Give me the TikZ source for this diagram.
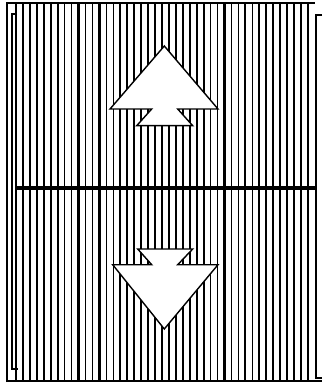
\documentclass[tikz,border=0pt]{standalone}
\begin{document}
\begin{tikzpicture}[x=1pt,y=-1pt,
  frame/.style={line width=1.3pt,black},
  hatch/.style={black},
  arrowshape/.style={draw=black,fill=white,line width=1.4pt,line join=miter}]
\useasboundingbox (0,0) rectangle (322,387);
% hatching
\foreach \i in {0,...,42}{
  \pgfmathsetmacro{\xx}{16+\i*6.95}
  \pgfmathsetmacro{\lw}{ifthenelse(mod(\i,3)==0,2.2,1.6)}
  \draw[hatch,line width=\lw pt] (\xx,3) -- (\xx,382);
}
% outer frame
\draw[frame] (7,382) -- (7,3) -- (315,3);
\draw[frame] (7,381) -- (322,381);
% left bracket
\draw[frame] (17,14) -- (12,14) -- (12,369) -- (18,369);
% right bracket
\draw[frame] (322,15) -- (316,15) -- (316,378) -- (322,378);
% middle thick line
\draw[line width=3.6pt] (15,188) -- (316,188);
% up arrow
\draw[arrowshape] (164.3,46) -- (218,109) -- (177.7,109) -- (192.7,125.7)
  -- (136.7,125.7) -- (151.7,109) -- (110,109) -- cycle;
% down arrow
\draw[arrowshape] (164.3,329) -- (218,264.7) -- (177.7,264.7) -- (192.7,249)
  -- (137.7,249) -- (151.7,264.7) -- (112.7,264.7) -- cycle;
\end{tikzpicture}
\end{document}
